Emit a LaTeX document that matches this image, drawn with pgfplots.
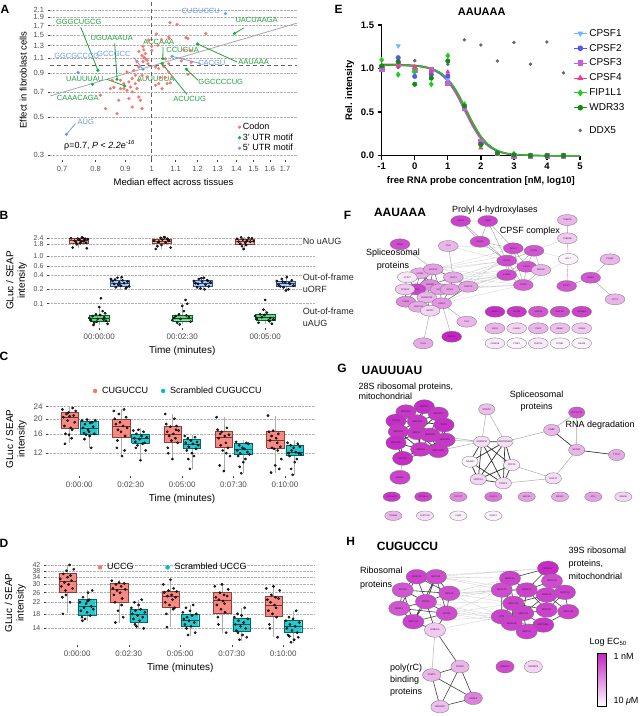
\documentclass[border=0pt]{standalone}
\usepackage{fontspec}
\setmainfont{Liberation Sans}
\usepackage{pgfplots}
\pgfplotsset{compat=1.18}

\definecolor{ggred}{HTML}{F8766D}
\definecolor{ggteal}{HTML}{00BFC4}
\definecolor{gggreen}{HTML}{00BA38}
\definecolor{ggblue}{HTML}{619CFF}
\definecolor{labgreen}{HTML}{1E9F3A}
\definecolor{labblue}{HTML}{6A9AE6}
\definecolor{ticktext}{HTML}{4D4D4D}
\definecolor{cpsfone}{HTML}{6FB6FF}
\definecolor{cpsftwo}{HTML}{5757EE}
\definecolor{cpsfthree}{HTML}{C45FE0}
\definecolor{cpsffour}{HTML}{F03C8C}
\definecolor{fipcol}{HTML}{22CC22}
\definecolor{wdrcol}{HTML}{138A13}
\definecolor{ddxcol}{HTML}{666666}
\definecolor{maghi}{RGB}{196,36,196}

\newcommand{\fsz}[2]{\fontsize{#1}{#2}\selectfont}
\def\lbl{}
\pgfdeclareplotmark{netF}{%
  \pgfpathellipse{\pgfpointorigin}{\pgfqpoint{1.8\pgfplotmarksize}{0pt}}{\pgfqpoint{0pt}{\pgfplotmarksize}}%
  \pgfusepathqfillstroke
  \pgftext{\color{black!85}\fontsize{2.2}{2.4}\selectfont\lbl}}
\pgfdeclareplotmark{netG}{%
  \pgfpathellipse{\pgfpointorigin}{\pgfqpoint{1.45\pgfplotmarksize}{0pt}}{\pgfqpoint{0pt}{\pgfplotmarksize}}%
  \pgfusepathqfillstroke
  \pgftext{\color{black!85}\fontsize{2.4}{2.6}\selectfont\lbl}}

\pgfplotsset{
  ggstyle/.style={scale only axis, axis line style={draw=none},
    axis x line*=bottom, axis y line*=left, tick align=outside,
    major tick length=2.5pt, tick style={color=black!75, line width=0.5pt},
    ymajorgrids, grid style={densely dotted, gray!60, line width=0.5pt},
    ticklabel style={font=\fsz{8}{9}, text=ticktext},
    /pgf/number format/assume math mode=true,
    label style={font=\fsz{10}{11.5}}, clip=false},
  netnodes/.style={scatter, only marks, scatter src=explicit,
    scatter/use mapped color={draw=black!55, fill=mapped color},
    mark options={line width=0.3pt},
    visualization depends on={value \thisrow{l}\as\lbl}},
  jit/.style={only marks, mark=*, mark size=1.15pt, black, mark options={fill=black!80}, forget plot},
}

% #1 x, #2 half width, #3 lower whisker, #4 q1, #5 median, #6 q3, #7 upper whisker, #8 colour, #9 opacity
\newcommand{\gbox}[9]{%
  \pgfmathsetmacro{\bxl}{#1-#2}\pgfmathsetmacro{\bxr}{#1+#2}%
  \addplot[forget plot, draw=gray!65, line width=0.5pt] coordinates {(#1,#3) (#1,#4)};
  \addplot[forget plot, draw=gray!65, line width=0.5pt] coordinates {(#1,#6) (#1,#7)};
  \addplot[forget plot, fill=#8, fill opacity=#9, draw=#8!55!black, line width=0.4pt]
     coordinates {(\bxl,#4) (\bxr,#4) (\bxr,#6) (\bxl,#6) (\bxl,#4)};
  \addplot[forget plot, draw=#8!45!black, line width=0.6pt] coordinates {(\bxl,#5) (\bxr,#5)};
}

\begin{document}
\begin{tikzpicture}
\path[use as bounding box] (0pt,0pt) rectangle (643pt,716pt);

%================ overlay: letters, networks =================
\begin{axis}[at={(0pt,0pt)}, anchor=south west, scale only axis, width=643pt, height=716pt,
  xmin=0, xmax=643, ymin=0, ymax=716, y dir=reverse, hide axis, clip=false,
  colormap={mag}{rgb255=(252,242,252) rgb255=(196,36,196)},
  point meta min=0, point meta max=1, unbounded coords=jump]

% ---------- F edges ----------
\addplot[gray!35, line width=0.3pt] coordinates {
(433.3,269.3)(506.7,260.7)(nan,nan)(433.3,269.3)(506.7,275)(nan,nan)(433.3,269.3)(513.3,248.3)(nan,nan)
(453.3,277.3)(506.7,260.7)(nan,nan)(453.3,277.3)(506.7,275)(nan,nan)(453.3,277.3)(523.3,285)(nan,nan)(453.3,277.3)(526.7,266.7)(nan,nan)
(450,289.3)(506.7,275)(nan,nan)(450,289.3)(523.3,285)(nan,nan)(450,289.3)(506.7,260.7)(nan,nan)
(468.3,286.7)(506.7,275)(nan,nan)(468.3,286.7)(523.3,285)(nan,nan)(468.3,286.7)(526.7,266.7)(nan,nan)(468.3,286.7)(513.3,248.3)(nan,nan)
(430,285)(506.7,260.7)(nan,nan)(430,285)(506.7,275)(nan,nan)(448.3,246)(513.3,248.3)(nan,nan)(448.3,246)(506.7,260.7)(nan,nan)
(441.7,303.3)(523.3,285)(nan,nan)(441.7,303.3)(506.7,275)(nan,nan)(440,289.3)(506.7,260.7)(nan,nan)(440,289.3)(523.3,285)(nan,nan)
(534,250.7)(567.3,238.3)(nan,nan)(534,250.7)(568.3,259)(nan,nan)(523.3,285)(568.3,259)(nan,nan)(433.3,269.3)(534,250.7)(nan,nan)
(420,273.3)(506.7,260.7)(nan,nan)(416,289.3)(506.7,275)(nan,nan)};
\addplot[gray!75, line width=0.4pt] coordinates {
(460.7,221)(487.7,221)(nan,nan)(460.7,221)(480,241.7)(nan,nan)(487.7,221)(480,241.7)(nan,nan)(487.7,221)(513.3,248.3)(nan,nan)
(487.7,221)(506.7,260.7)(nan,nan)(480,241.7)(506.7,260.7)(nan,nan)(480,241.7)(513.3,248.3)(nan,nan)(460.7,221)(506.7,260.7)(nan,nan)
(513.3,248.3)(534,250.7)(nan,nan)(513.3,248.3)(506.7,260.7)(nan,nan)(513.3,248.3)(526.7,266.7)(nan,nan)(513.3,248.3)(506.7,275)(nan,nan)
(513.3,248.3)(523.3,285)(nan,nan)(534,250.7)(506.7,260.7)(nan,nan)(534,250.7)(526.7,266.7)(nan,nan)(534,250.7)(541,270)(nan,nan)
(534,250.7)(506.7,275)(nan,nan)(506.7,260.7)(526.7,266.7)(nan,nan)(506.7,260.7)(506.7,275)(nan,nan)(506.7,260.7)(523.3,285)(nan,nan)
(526.7,266.7)(541,270)(nan,nan)(526.7,266.7)(506.7,275)(nan,nan)(526.7,266.7)(523.3,285)(nan,nan)(506.7,275)(523.3,285)(nan,nan)(541,270)(523.3,285)(nan,nan)
(400,244.3)(433.3,269.3)(nan,nan)(448.3,246)(453.3,277.3)(nan,nan)
(567.3,220)(567.3,238.3)(nan,nan)(567.3,238.3)(568.3,259)(nan,nan)(568.3,259)(566.7,286)(nan,nan)
(590.7,277.7)(566.7,286)(nan,nan)(590.7,277.7)(610,259.3)(nan,nan)(590.7,277.7)(615,299.3)(nan,nan)
(441.7,303.3)(466.7,321.7)(nan,nan)(430,310.7)(423.3,343.3)(nan,nan)(441.7,303.3)(451.7,336.7)(nan,nan)};
\addplot[black!65, line width=0.5pt] coordinates {
(420,273.3)(433.3,269.3)(nan,nan)(420,273.3)(407.3,277.3)(nan,nan)(420,273.3)(430,285)(nan,nan)(420,273.3)(416,289.3)(nan,nan)
(433.3,269.3)(453.3,277.3)(nan,nan)(433.3,269.3)(430,285)(nan,nan)(433.3,269.3)(440,289.3)(nan,nan)(407.3,277.3)(405,289.3)(nan,nan)
(407.3,277.3)(416,289.3)(nan,nan)(453.3,277.3)(450,289.3)(nan,nan)(453.3,277.3)(430,285)(nan,nan)(453.3,277.3)(468.3,286.7)(nan,nan)
(430,285)(416,289.3)(nan,nan)(430,285)(440,289.3)(nan,nan)(430,285)(426.7,297.3)(nan,nan)(416,289.3)(405,289.3)(nan,nan)
(416,289.3)(406,301.7)(nan,nan)(416,289.3)(426.7,297.3)(nan,nan)(440,289.3)(450,289.3)(nan,nan)(440,289.3)(441.7,303.3)(nan,nan)
(440,289.3)(426.7,297.3)(nan,nan)(450,289.3)(441.7,303.3)(nan,nan)(450,289.3)(468.3,286.7)(nan,nan)(405,289.3)(406,301.7)(nan,nan)
(406,301.7)(418.3,306.7)(nan,nan)(418.3,306.7)(426.7,297.3)(nan,nan)(418.3,306.7)(430,310.7)(nan,nan)(426.7,297.3)(441.7,303.3)(nan,nan)
(426.7,297.3)(430,310.7)(nan,nan)(441.7,303.3)(430,310.7)(nan,nan)(468.3,286.7)(441.7,303.3)(nan,nan)(416,289.3)(440,289.3)(nan,nan)
(420,273.3)(440,289.3)(nan,nan)(433.3,269.3)(416,289.3)(nan,nan)};
% ---------- F nodes ----------
\addplot[netnodes, mark=netF, mark size=5.5pt] table[meta=c, row sep=\\] {
x y c l\\
460.7 221 0.85 P4HA1\\ 487.7 221 0.85 P4HB\\ 480 241.7 0.8 P4HA2\\
513.3 248.3 0.8 FIP1L1\\ 534 250.7 0.75 CPSF1\\ 506.7 260.7 0.8 CPSF3\\ 526.7 266.7 0.75 CSTF3\\
541 270 0.3 MKRN2\\ 506.7 275 0.8 SYMPK\\ 523.3 285 0.7 CPSF2\\
400 244.3 0.8 MOB4\\ 448.3 246 0.3 PNN\\ 420 273.3 0.35 SF3B3\\ 433.3 269.3 0.4 SRSF11\\
407.3 277.3 0.05 CPSF7\\ 453.3 277.3 0.35 U2AF1\\ 430 285 0.5 SRRM2\\ 416 289.3 0.85 DDX23\\
440 289.3 0.4 SF3B1\\ 405 289.3 0.2 SF3B14\\ 450 289.3 0.4 SF3A1\\ 468.3 286.7 0.4 SRSF10\\
426.7 297.3 0.3 SNRNP200\\ 406 301.7 0.5 PUF60\\ 418.3 306.7 0.35 HNRPH1\\ 441.7 303.3 0.45 U2AF2\\
430 310.7 0.15 SNRPF\\ 466.7 321.7 0.3 TIA1\\ 451.7 336.7 1.0 CWC22\\ 423.3 343.3 0.35 TIAL1\\
567.3 220 0.3 TUBB2A\\ 567.3 238.3 0.2 TUBB4B\\ 568.3 259 0.0 RPL7\\ 610 259.3 0.3 C1QBP\\
590.7 277.7 0.75 NME2\\ 566.7 286 0.75 RPS27\\ 615 299.3 0.3 PITX1\\
495 311.7 0.95 ENO1\\ 516.7 311.7 0.9 DHX36\\ 538.3 311.7 0.75 SPATA5\\ 560 311.7 0.8 SPATS2L\\ 581.7 311.7 0.85 RPS6KA\\
495 328.3 0.3 ERO1\\ 516.7 328.3 0.15 CAMK2\\ 538.3 328.3 0.3 PRKX\\ 560 328.3 0.25 RBM47\\ 581.7 328.3 0.2 SF3B6\\
495 343.3 0.05 CSNK2B\\ 516.7 343.3 0.0 PTBP1\\ 538.3 343.3 0.05 PARP14\\ 560 343.3 0.0 ZCRB1\\ 581.7 343.3 0.0 NAA38\\
};

% ---------- G edges ----------
\addplot[black!80, line width=0.7pt] coordinates {
(424.3,406.7)(438.3,414)(nan,nan)(424.3,406.7)(406,411.7)(nan,nan)(424.3,406.7)(417.3,421.7)(nan,nan)(424.3,406.7)(444,425)(nan,nan)
(424.3,406.7)(417.3,432.7)(nan,nan)(424.3,406.7)(396,421)(nan,nan)(438.3,414)(417.3,421.7)(nan,nan)(438.3,414)(444,425)(nan,nan)
(438.3,414)(430,435)(nan,nan)(438.3,414)(417.3,432.7)(nan,nan)(406,411.7)(396,421)(nan,nan)(406,411.7)(417.3,421.7)(nan,nan)
(406,411.7)(398.3,431.7)(nan,nan)(406,411.7)(417.3,432.7)(nan,nan)(396,421)(417.3,421.7)(nan,nan)(396,421)(398.3,431.7)(nan,nan)
(396,421)(396,442.7)(nan,nan)(417.3,421.7)(444,425)(nan,nan)(417.3,421.7)(398.3,431.7)(nan,nan)(417.3,421.7)(417.3,432.7)(nan,nan)
(417.3,421.7)(430,435)(nan,nan)(417.3,421.7)(420.7,449.3)(nan,nan)(444,425)(430,435)(nan,nan)(444,425)(445,440)(nan,nan)
(444,425)(438.3,450.7)(nan,nan)(398.3,431.7)(417.3,432.7)(nan,nan)(398.3,431.7)(396,442.7)(nan,nan)(398.3,431.7)(420.7,449.3)(nan,nan)
(398.3,431.7)(402.7,458.3)(nan,nan)(417.3,432.7)(430,435)(nan,nan)(417.3,432.7)(420.7,449.3)(nan,nan)(417.3,432.7)(396,442.7)(nan,nan)
(417.3,432.7)(438.3,450.7)(nan,nan)(430,435)(445,440)(nan,nan)(430,435)(420.7,449.3)(nan,nan)(430,435)(438.3,450.7)(nan,nan)
(445,440)(438.3,450.7)(nan,nan)(445,440)(420.7,449.3)(nan,nan)(396,442.7)(420.7,449.3)(nan,nan)(396,442.7)(402.7,458.3)(nan,nan)
(420.7,449.3)(438.3,450.7)(nan,nan)(420.7,449.3)(402.7,458.3)(nan,nan)(438.3,450.7)(402.7,458.3)(nan,nan)
(481.7,441.7)(505,441.7)(nan,nan)(481.7,441.7)(470,461.7)(nan,nan)(481.7,441.7)(511.7,465)(nan,nan)(481.7,441.7)(478.3,479.3)(nan,nan)
(481.7,441.7)(503.3,483.3)(nan,nan)(505,441.7)(470,461.7)(nan,nan)(505,441.7)(511.7,465)(nan,nan)(505,441.7)(478.3,479.3)(nan,nan)
(505,441.7)(503.3,483.3)(nan,nan)(470,461.7)(503.3,483.3)(nan,nan)(470,461.7)(478.3,479.3)(nan,nan)(511.7,465)(478.3,479.3)(nan,nan)
(511.7,465)(503.3,483.3)(nan,nan)(478.3,479.3)(503.3,483.3)(nan,nan)(576.7,450)(616.7,455)(nan,nan)(551.7,430)(576.7,450)(nan,nan)};
\addplot[gray!65, line width=0.5pt] coordinates {
(445,440)(481.7,441.7)(nan,nan)(430,435)(481.7,441.7)(nan,nan)(438.3,450.7)(481.7,441.7)(nan,nan)(402.7,458.3)(400,477.3)(nan,nan)
(486.7,409.3)(481.7,441.7)(nan,nan)(486.7,409.3)(505,441.7)(nan,nan)(505,441.7)(551.7,430)(nan,nan)
(576.7,450)(553.3,478.3)(nan,nan)(553.3,478.3)(511.7,465)(nan,nan)(553.3,478.3)(503.3,483.3)(nan,nan)};
\addplot[gray!45, line width=1pt] coordinates {(576.7,412.5)(576.7,450)(nan,nan)(551.7,430)(576.7,412.5)};
% ---------- G nodes ----------
\addplot[netnodes, mark=netG, mark size=7pt] table[meta=c, row sep=\\] {
x y c l\\
424.3 406.7 0.95 MRPS7\\ 438.3 414 0.9 MRPS27\\ 406 411.7 0.9 MRPS23\\ 396 421 0.95 PTCD3\\
417.3 421.7 0.9 MRPS34\\ 444 425 0.95 DAP3\\ 398.3 431.7 0.9 MRPS31\\ 417.3 432.7 0.9 MRPS22\\
430 435 0.9 MRPS26\\ 445 440 0.9 MRPS28\\ 396 442.7 0.95 MRPS35\\ 420.7 449.3 0.9 MRPS9\\
438.3 450.7 0.9 MRPS18B\\ 402.7 458.3 0.95 MRPS2\\ 400 477.3 0.85 ERAL1\\
};
\addplot[netnodes, mark=netG, mark size=5.6pt] table[meta=c, row sep=\\] {
x y c l\\
486.7 409.3 0.25 MYEF2\\ 481.7 441.7 0.1 HNRNPM\\ 505 441.7 0.1 HNRNPA2B1\\ 470 461.7 0.0 NAA38\\
511.7 465 0.05 PRPF3\\ 478.3 479.3 0.15 PRPF31\\ 503.3 483.3 0.1 PRPF4\\ 551.7 430 0.3 CNBP\\
576.7 412.5 0.75 ZCCHC11\\ 576.7 450 0.3 SKIV2L\\ 616.7 455 0.35 TTC37\\ 553.3 478.3 0.1 DHX37\\
};
\addplot[netnodes, mark=netF, mark size=4.8pt] table[meta=c, row sep=\\] {
x y c l\\
391.7 496.7 0.9 ZFP36L2\\ 423.3 496.7 0.85 ZFP36L1\\ 458.3 496.7 0.5 CSTF2T\\ 493.3 496.7 0.6 ZNFX1\\
526.7 496.7 0.4 MEX3D\\ 560 496.7 0.35 MEX3C\\ 593.3 496.7 0.4 ATIC\\ 623.3 496.7 0.15 RBM38\\
393.3 515.7 0.3 TRIM56\\ 425 515.7 0.1 FASTKD2\\ 458.3 515.7 0.02 LSM8\\ 493.3 515.7 0.0 GRSF1\\
};

% ---------- H edges ----------
\addplot[gray!35, line width=0.35pt] coordinates {
(436,576.7)(510,578.3)(nan,nan)(436,576.7)(501.7,590)(nan,nan)(436,576.7)(526.7,590)(nan,nan)(449.3,593.3)(501.7,590)(nan,nan)
(449.3,593.3)(510,578.3)(nan,nan)(449.3,593.3)(513.3,603.3)(nan,nan)(449.3,593.3)(501.7,616.7)(nan,nan)(446.7,613.3)(501.7,616.7)(nan,nan)
(446.7,613.3)(513.3,603.3)(nan,nan)(446.7,613.3)(511.7,623.3)(nan,nan)(446.7,613.3)(501.7,590)(nan,nan)(416.7,576.7)(510,578.3)(nan,nan)
(416.7,576.7)(548,568.3)(nan,nan)(426,601.7)(501.7,590)(nan,nan)(426,601.7)(513.3,603.3)(nan,nan)(426,601.7)(501.7,616.7)(nan,nan)
(413.3,621.7)(501.7,616.7)(nan,nan)(449.3,593.3)(526.7,590)(nan,nan)(436,576.7)(548,568.3)(nan,nan)(446.7,613.3)(523.3,613.3)(nan,nan)
(426,601.7)(511.7,623.3)(nan,nan)(449.3,593.3)(546.7,595)(nan,nan)(402.7,590)(501.7,590)(nan,nan)(435,630)(501.7,616.7)(nan,nan)};
\addplot[black!75, line width=0.6pt] coordinates {
(416.7,576.7)(436,576.7)(nan,nan)(416.7,576.7)(402.7,590)(nan,nan)(416.7,576.7)(426,601.7)(nan,nan)(416.7,576.7)(399.3,608.3)(nan,nan)
(416.7,576.7)(449.3,593.3)(nan,nan)(436,576.7)(449.3,593.3)(nan,nan)(436,576.7)(426,601.7)(nan,nan)(436,576.7)(446.7,613.3)(nan,nan)
(436,576.7)(413.3,621.7)(nan,nan)(402.7,590)(426,601.7)(nan,nan)(402.7,590)(399.3,608.3)(nan,nan)(402.7,590)(413.3,621.7)(nan,nan)
(402.7,590)(449.3,593.3)(nan,nan)(449.3,593.3)(426,601.7)(nan,nan)(449.3,593.3)(446.7,613.3)(nan,nan)(426,601.7)(399.3,608.3)(nan,nan)
(426,601.7)(446.7,613.3)(nan,nan)(426,601.7)(413.3,621.7)(nan,nan)(426,601.7)(435,630)(nan,nan)(399.3,608.3)(413.3,621.7)(nan,nan)
(399.3,608.3)(446.7,613.3)(nan,nan)(446.7,613.3)(413.3,621.7)(nan,nan)(446.7,613.3)(435,630)(nan,nan)(413.3,621.7)(435,630)(nan,nan)
(548,568.3)(510,578.3)(nan,nan)(548,568.3)(552,581)(nan,nan)(548,568.3)(526.7,590)(nan,nan)(548,568.3)(546.7,595)(nan,nan)
(510,578.3)(526.7,590)(nan,nan)(510,578.3)(501.7,590)(nan,nan)(510,578.3)(513.3,603.3)(nan,nan)(552,581)(546.7,595)(nan,nan)
(552,581)(565,592.3)(nan,nan)(526.7,590)(501.7,590)(nan,nan)(526.7,590)(546.7,595)(nan,nan)(526.7,590)(513.3,603.3)(nan,nan)
(526.7,590)(523.3,613.3)(nan,nan)(526.7,590)(546.7,610)(nan,nan)(501.7,590)(513.3,603.3)(nan,nan)(501.7,590)(501.7,616.7)(nan,nan)
(546.7,595)(565,592.3)(nan,nan)(546.7,595)(546.7,610)(nan,nan)(546.7,595)(523.3,613.3)(nan,nan)(546.7,595)(568.3,611.7)(nan,nan)
(565,592.3)(568.3,611.7)(nan,nan)(565,592.3)(546.7,610)(nan,nan)(513.3,603.3)(501.7,616.7)(nan,nan)(513.3,603.3)(523.3,613.3)(nan,nan)
(513.3,603.3)(511.7,623.3)(nan,nan)(513.3,603.3)(546.7,610)(nan,nan)(501.7,616.7)(511.7,623.3)(nan,nan)(501.7,616.7)(523.3,613.3)(nan,nan)
(523.3,613.3)(546.7,610)(nan,nan)(523.3,613.3)(511.7,623.3)(nan,nan)(523.3,613.3)(543.3,625)(nan,nan)(523.3,613.3)(526.7,631.7)(nan,nan)
(546.7,610)(568.3,611.7)(nan,nan)(546.7,610)(543.3,625)(nan,nan)(568.3,611.7)(543.3,625)(nan,nan)(511.7,623.3)(526.7,631.7)(nan,nan)
(543.3,625)(526.7,631.7)(nan,nan)(511.7,623.3)(543.3,625)(nan,nan)(526.7,590)(552,581)(nan,nan)(546.7,595)(513.3,603.3)(nan,nan)
(435,630)(460,666.7)(nan,nan)(431.7,675)(460,666.7)(nan,nan)(431.7,675)(473.3,698.3)(nan,nan)(431.7,675)(440,706.7)(nan,nan)
(460,666.7)(473.3,698.3)(nan,nan)(460,666.7)(440,706.7)(nan,nan)(440,706.7)(473.3,698.3)(nan,nan)};
\addplot[gray!60, line width=0.5pt] coordinates {(435,630)(431.7,675)};
% ---------- H nodes ----------
\addplot[netnodes, mark=netG, mark size=7.3pt] table[meta=c, row sep=\\] {
x y c l\\
416.7 576.7 0.85 MRPL13\\ 436 576.7 0.8 MRPL11\\ 402.7 590 0.75 RPS28\\ 449.3 593.3 0.8 RPS3A\\
426 601.7 0.8 RPS10\\ 399.3 608.3 0.75 MRPL1\\ 446.7 613.3 0.8 RPS13\\ 413.3 621.7 0.85 MRPL22\\
435 630 0.2 GNB2L1\\
548 568.3 0.95 MRPL17\\ 510 578.3 0.85 MRPL12\\ 552 581 0.8 MRPL40\\ 526.7 590 0.85 MRPL21\\
501.7 590 0.8 MRPL49\\ 546.7 595 0.85 MRPL15\\ 565 592.3 0.85 MRPL50\\ 513.3 603.3 0.85 MRPL38\\
501.7 616.7 0.85 ICT1\\ 523.3 613.3 0.85 MRPL14\\ 546.7 610 0.85 MRPL37\\ 568.3 611.7 0.85 MRPL43\\
511.7 623.3 0.85 MRPL39\\ 543.3 625 0.9 MRPS18A\\ 526.7 631.7 0.85 MRPL3\\
};
\addplot[netnodes, mark=netG, mark size=6.3pt] table[meta=c, row sep=\\] {
x y c l\\
460 666.7 0.3 PCBP2\\ 431.7 675 0.3 PCBP1\\ 473.3 698.3 0.55 SRSF4\\ 440 706.7 0.25 HNRNPK\\
505 666.7 0.8 ANGEL2\\ 533.3 666.7 0.15 IGF2BP3\\
};

% panel letters and titles
\node[font=\bfseries\fsz{12}{14}] at (axis cs:5,9) {A};
\node[font=\bfseries\fsz{12}{14}] at (axis cs:4,215) {B};
\node[font=\bfseries\fsz{12}{14}] at (axis cs:4,356) {C};
\node[font=\bfseries\fsz{12}{14}] at (axis cs:4,543) {D};
\node[font=\bfseries\fsz{12}{14}] at (axis cs:338.7,9) {E};
\node[font=\bfseries\fsz{12}{14}] at (axis cs:347.5,215) {F};
\node[font=\bfseries\fsz{12}{14}] at (axis cs:342,368) {G};
\node[font=\bfseries\fsz{12}{14}] at (axis cs:350.8,541) {H};
\node[font=\bfseries\fsz{11}{13}] at (axis cs:481.7,11.7) {AAUAAA};
\node[font=\bfseries\fsz{12}{14}] at (axis cs:400,212.7) {AAUAAA};
\node[font=\bfseries\fsz{12}{14}] at (axis cs:392,370) {UAUUUAU};
\node[font=\bfseries\fsz{12}{14}] at (axis cs:407.5,546.7) {CUGUCCU};

% annotations
\node[font=\fsz{9}{11}] at (axis cs:495,210) {Prolyl 4-hydroxylases};
\node[font=\fsz{9}{11}] at (axis cs:530,230.8) {CPSF complex};
\node[font=\fsz{9}{13.3}, align=center] at (axis cs:393,260) {Spliceosomal\\proteins};
\node[font=\fsz{9}{10}, align=left, anchor=west] at (axis cs:355,391.7) {28S ribosomal proteins,\\mitochondrial};
\node[font=\fsz{9}{11.7}, align=center] at (axis cs:536.7,401) {Spliceosomal\\proteins};
\node[font=\fsz{9}{11}, anchor=west] at (axis cs:562,425) {RNA degradation};
\node[font=\fsz{9}{13.3}, align=left, anchor=west] at (axis cs:356.7,578.3) {Ribosomal\\proteins};
\node[font=\fsz{9}{13.3}, align=left, anchor=west] at (axis cs:565,563.3) {39S ribosomal\\proteins,\\mitochondrial};
\node[font=\fsz{9}{11.7}, align=left, anchor=west] at (axis cs:386.7,680) {poly(rC)\\binding\\proteins};
\node[font=\fsz{9}{11}, anchor=west] at (axis cs:586,642) {Log EC\textsubscript{50}};
\node[font=\fsz{9}{11}, anchor=west] at (axis cs:610,656.7) {1 nM};
\node[font=\fsz{9}{11}, anchor=west] at (axis cs:610,701) {10 \textit{μ}M};
\fill[top color=maghi, bottom color=white] (axis cs:597,653.3) rectangle (axis cs:606,706.7);
\draw[line width=0.9pt] (axis cs:597,653.3) rectangle (axis cs:606,706.7);
\end{axis}

%================ A =================
\begin{axis}[ggstyle, at={(50pt,716pt)}, anchor=north west, width=247pt, height=160pt,
  xmode=log, ymode=log, xmin=0.667, xmax=1.783, ymin=0.2806, ymax=2.40,
  xtick={0.7,0.8,0.9,1,1.1,1.2,1.3,1.4,1.5,1.6,1.7}, xticklabels={0.7,0.8,0.9,1,1.1,1.2,1.3,1.4,1.5,1.6,1.7},
  ytick={0.3,0.5,0.7,0.9,1.1,1.3,1.5,1.7,1.9,2.1}, yticklabels={0.3,0.5,0.7,0.9,1.1,1.3,1.5,1.7,1.9,2.1},
  minor xtick={}, minor ytick={},
  ticklabel style={font=\fsz{7.5}{8.5}},
  xlabel={Median effect across tissues}, ylabel={Effect in fibroblast cells},
  label style={font=\fsz{9.5}{11}},
  legend style={at={(0.757,0.25)}, anchor=north west, draw=none, fill=none, font=\fsz{9}{10}, row sep=-1.5pt, inner sep=1pt},
  legend cell align=left, unbounded coords=jump]
\addplot[forget plot, dash pattern=on 4pt off 3pt, gray!75!black, line width=0.7pt] coordinates {(1,0.2806) (1,2.40)};
\addplot[forget plot, dash pattern=on 4pt off 3pt, gray!75!black, line width=0.7pt] coordinates {(0.667,1) (1.783,1)};
\addplot[forget plot, gray!70, line width=0.8pt] coordinates {(0.667,0.662) (1.783,1.76)};
\addplot[forget plot, labgreen, line width=0.8pt] coordinates {
(0.754,1.665)(0.807,0.935)(nan,nan)(0.863,1.343)(0.871,0.829)(nan,nan)(0.836,0.829)(0.898,0.758)(nan,nan)
(1.046,1.278)(1.045,1.094)(nan,nan)(1.20,1.331)(1.404,1.045)(nan,nan)(1.39,1.53)(1.442,1.65)(nan,nan)
(1.148,0.948)(1.202,0.818)(nan,nan)(1.042,1.023)(1.151,0.675)};
\addplot[forget plot, labblue, line width=0.8pt] coordinates {
(0.931,1.109)(0.966,0.948)(nan,nan)(1.084,1.128)(1.214,1.023)(nan,nan)(0.712,0.396)(0.738,0.457)};
\addplot[only marks, mark=*, mark size=1.4pt, ggred] coordinates {
(1.075,1.77)(1.106,1.73)(1.24,1.53)(1.019,1.52)(1.07,1.46)(1.072,1.43)(1.146,1.45)(1.155,1.43)(1.0,1.29)(1.04,1.41)
(1.025,1.31)(1.0,1.22)(0.966,1.29)(0.975,1.17)(0.962,1.14)(0.97,1.11)(0.982,1.07)(0.966,1.05)(0.985,1.02)(1.136,1.23)
(1.166,1.22)(1.125,1.06)(1.17,1.04)(1.056,1.09)(1.07,1.02)(1.049,0.98)(1.155,0.886)(1.07,0.914)(1.056,0.848)(1.077,0.79)
(1.042,0.73)(1.063,0.782)(1.035,0.848)(0.988,1.40)(0.969,1.23)(0.95,1.20)(0.978,1.08)(0.943,1.05)(0.95,0.977)(0.931,0.935)
(0.906,0.914)(0.937,0.874)(0.962,0.874)(0.982,0.855)(0.925,0.837)(0.95,0.818)(0.913,0.80)(0.895,0.782)(0.937,0.782)(0.919,0.747)
(0.906,0.715)(0.895,0.731)(0.925,0.70)(0.943,0.731)(0.883,0.731)(0.86,0.742)(0.848,0.731)(0.854,0.818)(0.883,0.818)(0.913,0.64)
(0.95,0.653)(0.956,0.625)(0.877,0.625)(0.925,0.571)(0.832,0.559)(0.871,0.522)(0.962,0.559)(0.815,0.669)(1.015,0.977)(1.028,0.956)
(1.084,0.855)(1.015,0.765)(1.028,0.782)};
\addlegendentry{Codon}
\addplot[only marks, mark=*, mark size=1.4pt, gggreen] coordinates {
(0.807,0.935)(0.871,0.829)(0.898,0.758)(0.79,0.775)(1.045,1.094)(1.042,1.023)(1.148,0.948)(1.20,1.331)(1.39,1.53)};
\addlegendentry{3' UTR motif}
\addplot[only marks, mark=*, mark size=1.4pt, ggblue] coordinates {
(1.341,2.0)(0.746,0.907)(0.966,0.948)(1.084,1.128)(0.712,0.396)};
\addlegendentry{5' UTR motif}
\begin{scope}[font=\fsz{7.5}{8.5}]
\node[text=labgreen] at (axis cs:0.748,1.78) {GGGCUGCG};
\node[text=labgreen] at (axis cs:0.853,1.437) {UGUAAAUA};
\node[text=labblue] at (axis cs:0.742,1.128) {GGCGCCCG};
\node[text=labblue] at (axis cs:0.860,1.159) {GCCGCC};
\node[text=labgreen] at (axis cs:0.766,0.829) {UAUUUAU};
\node[text=labgreen] at (axis cs:0.745,0.642) {CAAACAGA};
\node[text=labblue] at (axis cs:0.769,0.466) {AUG};
\node[text=labgreen] at (axis cs:1.028,1.361) {ACCAAA};
\node[text=labgreen] at (axis cs:1.131,1.223) {CCUGUA};
\node[text=labgreen] at (axis cs:1.016,0.829) {AUUUUUA};
\node[text=labblue] at (axis cs:1.215,2.064) {CUGUCCU};
\node[text=labgreen] at (axis cs:1.518,1.83) {UACUAAGA};
\node[text=labgreen] at (axis cs:1.50,1.041) {AAUAAA};
\node[text=labblue] at (axis cs:1.27,1.027) {CACGU};
\node[text=labgreen] at (axis cs:1.316,0.796) {GGCCCCUG};
\node[text=labgreen] at (axis cs:1.163,0.634) {ACUCUG};
\end{scope}
\node[anchor=west, font=\fsz{9}{10}] at (axis cs:0.696,0.342) {ρ=0.7, \textit{P} < \textit{2.2e}\textsuperscript{\textit{-16}}};
\end{axis}

%================ B =================
\begin{axis}[ggstyle, at={(49.5pt,483pt)}, anchor=north west, width=265.5pt, height=95pt,
  ymode=log, xmin=0.4, xmax=3.6, ymin=0.031, ymax=3.03,
  xtick={1,2,3}, xticklabels={00:00:00,00:02:30,00:05:00},
  ytick={0.1,0.2,0.4,0.6,1.0,1.8,2.4}, yticklabels={0.1,0.2,0.4,0.6,1.0,1.8,2.4}, minor ytick={},
  yticklabel style={font=\fsz{7}{7.5}},
  xlabel={Time (minutes)}, ylabel={GLuc / SEAP\\intensity}, ylabel style={align=center}]
\gbox{0.752}{0.117}{1.45}{1.85}{2.1}{2.33}{2.5}{ggred}{0.55}
\gbox{1.752}{0.117}{1.4}{1.85}{2.05}{2.3}{2.5}{ggred}{0.55}
\gbox{2.752}{0.117}{1.4}{1.8}{2.0}{2.3}{2.45}{ggred}{0.55}
\gbox{1.248}{0.117}{0.19}{0.23}{0.27}{0.31}{0.36}{ggblue}{0.55}
\gbox{2.248}{0.117}{0.2}{0.23}{0.27}{0.31}{0.35}{ggblue}{0.55}
\gbox{3.248}{0.117}{0.19}{0.23}{0.265}{0.30}{0.36}{ggblue}{0.55}
\gbox{1.0}{0.117}{0.036}{0.043}{0.05}{0.058}{0.085}{gggreen}{0.6}
\gbox{2.0}{0.117}{0.037}{0.044}{0.05}{0.058}{0.09}{gggreen}{0.6}
\gbox{3.0}{0.117}{0.038}{0.045}{0.051}{0.06}{0.075}{gggreen}{0.6}
\addplot[jit] coordinates {
(0.66,2.35)(0.70,2.1)(0.72,1.95)(0.74,2.3)(0.76,2.2)(0.78,2.0)(0.80,2.4)(0.82,2.15)(0.84,1.9)(0.86,2.25)(0.68,1.5)(0.85,1.45)
(0.73,1.75)(0.79,2.45)(0.77,1.85)(0.81,2.05)(0.75,2.2)(0.83,2.3)
(1.66,2.1)(1.68,1.4)(1.70,1.6)(1.72,2.0)(1.74,2.4)(1.76,2.2)(1.78,2.5)(1.80,1.9)(1.82,2.3)(1.84,2.1)(1.86,1.5)(1.75,1.7)
(1.79,2.45)(1.71,1.95)(1.83,2.15)
(2.66,2.3)(2.68,2.0)(2.70,1.8)(2.72,1.6)(2.74,1.4)(2.76,1.9)(2.78,2.1)(2.80,2.4)(2.84,2.35)(2.86,2.05)(2.73,2.2)(2.77,1.7)
(2.71,2.45)(2.82,2.0)
(1.14,0.33)(1.16,0.30)(1.18,0.26)(1.20,0.22)(1.22,0.35)(1.24,0.28)(1.26,0.24)(1.28,0.31)(1.30,0.27)(1.32,0.21)(1.34,0.29)
(1.36,0.23)(1.19,0.32)(1.27,0.36)(1.23,0.25)(1.33,0.22)
(2.14,0.30)(2.16,0.27)(2.18,0.22)(2.20,0.33)(2.22,0.21)(2.24,0.29)(2.26,0.35)(2.28,0.25)(2.30,0.31)(2.32,0.23)(2.34,0.28)
(2.19,0.26)(2.27,0.20)(2.23,0.34)(2.31,0.30)
(3.14,0.30)(3.16,0.25)(3.18,0.23)(3.20,0.33)(3.22,0.22)(3.24,0.28)(3.26,0.36)(3.28,0.20)(3.30,0.26)(3.32,0.31)(3.34,0.24)
(3.21,0.29)(3.29,0.27)(3.25,0.19)
(0.88,0.05)(0.90,0.045)(0.92,0.055)(0.94,0.04)(0.96,0.06)(0.98,0.048)(1.00,0.085)(1.02,0.13)(1.04,0.07)(1.06,0.052)(1.08,0.044)
(1.10,0.038)(0.97,0.042)(1.01,0.058)(1.05,0.047)(0.93,0.036)(1.07,0.063)
(1.88,0.045)(1.90,0.05)(1.92,0.055)(1.94,0.04)(1.96,0.06)(1.98,0.048)(2.00,0.09)(2.04,0.12)(2.06,0.10)(2.08,0.052)(2.10,0.042)
(2.02,0.07)(1.97,0.037)(2.05,0.057)
(2.88,0.055)(2.90,0.048)(2.92,0.04)(2.94,0.06)(2.96,0.052)(2.98,0.075)(3.00,0.12)(3.02,0.065)(3.04,0.045)(3.06,0.05)(3.08,0.038)
(2.99,0.058)(3.05,0.043)(3.10,0.047)};
\node[anchor=west, fill=white, inner sep=1pt, font=\fsz{9}{11}, text=black!85] at (axis cs:3.44,1.99) {No uAUG};
\node[anchor=west, fill=white, inner sep=1pt, align=left, font=\fsz{9}{12}, text=black!85] at (axis cs:3.44,0.272) {Out-of-frame\\uORF};
\node[anchor=west, fill=white, inner sep=1pt, align=left, font=\fsz{9}{12}, text=black!85] at (axis cs:3.44,0.0526) {Out-of-frame\\uAUG};
\end{axis}

%================ C =================
\begin{axis}[ggstyle, at={(48.5pt,314pt)}, anchor=north west, width=267.3pt, height=74pt,
  ymode=log, xmin=0.4, xmax=5.6, ymin=8.55, ymax=25.7,
  xtick={1,2,3,4,5}, xticklabels={0:00:00,0:02:30,0:05:00,0:07:30,0:10:00},
  ytick={12,16,20,24}, yticklabels={12,16,20,24}, minor ytick={},
  xlabel={Time (minutes)}, ylabel={GLuc / SEAP\\intensity}, ylabel style={align=center},
  legend style={at={(0.155,1.149)}, anchor=west, legend columns=2, draw=none, fill=none, font=\fsz{9}{10},
     /tikz/every odd column/.append style={column sep=3pt},
     /tikz/every even column/.append style={column sep=11pt}}]
\addlegendimage{only marks, mark=*, ggred, mark size=2pt}\addlegendentry{CUGUCCU}
\addlegendimage{only marks, mark=*, ggteal, mark size=2pt}\addlegendentry{Scrambled CUGUCCU}
\gbox{0.8125}{0.17}{13.9}{17.4}{20.5}{22.0}{23.8}{ggred}{0.85}
\gbox{1.1875}{0.17}{13.0}{16.0}{17.5}{19.2}{20.0}{ggteal}{0.85}
\gbox{1.8125}{0.17}{11.5}{15.2}{17.9}{19.9}{23.0}{ggred}{0.85}
\gbox{2.1875}{0.17}{10.8}{13.9}{15.0}{16.0}{17.5}{ggteal}{0.85}
\gbox{2.8125}{0.17}{11.0}{14.1}{16.0}{17.9}{21.5}{ggred}{0.85}
\gbox{3.1875}{0.17}{9.5}{12.9}{13.8}{14.8}{15.8}{ggteal}{0.85}
\gbox{3.8125}{0.17}{9.2}{13.2}{15.1}{16.6}{20.5}{ggred}{0.85}
\gbox{4.1875}{0.17}{8.9}{11.9}{12.7}{13.9}{14.6}{ggteal}{0.85}
\gbox{4.8125}{0.17}{9.0}{13.0}{14.5}{16.7}{21.0}{ggred}{0.85}
\gbox{5.1875}{0.17}{8.7}{11.6}{12.1}{13.6}{14.5}{ggteal}{0.85}
\addplot[jit] coordinates {
(0.67,23.0)(0.69,20.5)(0.71,18.0)(0.73,16.0)(0.75,21.5)(0.77,19.5)(0.79,22.0)(0.81,20.8)(0.83,17.5)(0.85,15.0)(0.87,23.5)
(0.89,21.0)(0.91,19.0)(0.93,22.5)(0.72,13.8)(0.86,17.0)(0.80,15.8)
(1.05,19.5)(1.07,17.5)(1.09,16.2)(1.11,18.5)(1.13,15.8)(1.15,19.8)(1.17,17.0)(1.19,16.5)(1.21,18.8)(1.23,13.0)(1.25,19.0)
(1.27,17.8)(1.29,16.0)(1.31,19.6)(1.10,14.8)(1.20,15.5)
(1.67,22.5)(1.69,20.0)(1.71,18.5)(1.73,13.0)(1.75,17.0)(1.77,21.5)(1.79,19.0)(1.81,16.5)(1.83,11.5)(1.85,18.0)(1.87,23.0)
(1.89,15.5)(1.91,20.5)(1.93,17.5)(1.74,14.5)(1.88,12.5)
(2.05,16.8)(2.07,15.0)(2.09,14.2)(2.11,16.0)(2.13,13.5)(2.15,17.0)(2.17,14.8)(2.19,10.8)(2.21,15.5)(2.23,13.8)(2.25,16.5)
(2.27,14.0)(2.29,12.5)(2.31,15.2)(2.10,13.0)
(2.67,21.5)(2.69,18.5)(2.71,16.5)(2.73,12.0)(2.75,15.5)(2.77,17.8)(2.79,14.5)(2.81,11.0)(2.83,16.0)(2.85,20.0)(2.87,15.0)
(2.89,18.0)(2.91,14.0)(2.93,16.8)(2.72,13.0)(2.88,17.0)
(3.05,15.5)(3.07,14.0)(3.09,12.5)(3.11,15.0)(3.13,13.2)(3.15,9.5)(3.17,14.5)(3.19,12.0)(3.21,13.8)(3.23,11.5)(3.25,15.2)
(3.27,12.8)(3.29,14.2)(3.31,13.5)(3.12,11.0)
(3.67,20.5)(3.69,17.0)(3.71,15.0)(3.73,10.0)(3.75,13.5)(3.77,16.5)(3.79,12.5)(3.81,9.2)(3.83,15.5)(3.85,14.0)(3.87,17.5)
(3.89,13.0)(3.91,15.8)(3.93,11.5)(3.74,16.0)(3.86,12.0)
(4.05,14.2)(4.07,12.5)(4.09,11.5)(4.11,13.5)(4.13,12.0)(4.15,8.9)(4.17,13.0)(4.19,10.5)(4.21,12.8)(4.23,11.0)(4.25,14.0)
(4.27,12.2)(4.29,13.8)(4.31,11.8)(4.12,9.8)
(4.67,21.0)(4.69,16.5)(4.71,14.5)(4.73,9.0)(4.75,13.0)(4.77,16.8)(4.79,12.8)(4.81,10.0)(4.83,15.0)(4.85,14.0)(4.87,16.0)
(4.89,9.5)(4.91,13.2)(4.93,11.0)(4.74,15.5)(4.86,12.5)
(5.05,14.0)(5.07,12.0)(5.09,11.5)(5.11,13.5)(5.13,12.5)(5.15,8.7)(5.17,13.0)(5.19,10.5)(5.21,12.2)(5.23,11.0)(5.25,13.8)
(5.27,12.0)(5.29,13.2)(5.31,11.8)(5.12,9.5)};
\end{axis}

%================ D =================
\begin{axis}[ggstyle, at={(46.4pt,155pt)}, anchor=north west, width=267.8pt, height=84pt,
  ymode=log, xmin=0.4, xmax=5.6, ymin=10.5, ymax=45,
  xtick={1,2,3,4,5}, xticklabels={0:00:00,0:02:30,0:05:00,0:07:30,0:10:00},
  ytick={14,18,22,26,30,34,38,42}, yticklabels={14,18,22,26,30,34,38,42}, minor ytick={},
  yticklabel style={font=\fsz{7}{7.5}},
  xlabel={Time (minutes)}, ylabel={GLuc / SEAP\\intensity}, ylabel style={align=center},
  legend style={at={(0.181,0.925)}, anchor=west, legend columns=2, draw=none, fill=none, font=\fsz{9}{10},
     /tikz/every odd column/.append style={column sep=3pt},
     /tikz/every even column/.append style={column sep=30pt}}]
\addlegendimage{only marks, mark=*, ggred, mark size=2pt}\addlegendentry{UCCG}
\addlegendimage{only marks, mark=*, ggteal, mark size=2pt}\addlegendentry{Scrambled UCCG}
\gbox{0.8125}{0.17}{18.2}{26.4}{31.4}{36.4}{42}{ggred}{0.85}
\gbox{1.1875}{0.17}{16}{17.6}{20.5}{23.1}{27}{ggteal}{0.85}
\gbox{1.8125}{0.17}{15.5}{22.0}{27.5}{30.6}{32.5}{ggred}{0.85}
\gbox{2.1875}{0.17}{13.8}{15.7}{18}{19.5}{23}{ggteal}{0.85}
\gbox{2.8125}{0.17}{14.3}{20.2}{24.3}{26.7}{32.5}{ggred}{0.85}
\gbox{3.1875}{0.17}{12.2}{14.6}{16.2}{18}{21}{ggteal}{0.85}
\gbox{3.8125}{0.17}{13}{18.3}{22.6}{26}{30}{ggred}{0.85}
\gbox{4.1875}{0.17}{11.2}{13.4}{15}{16.6}{20}{ggteal}{0.85}
\gbox{4.8125}{0.17}{12}{17.4}{21}{24.6}{29}{ggred}{0.85}
\gbox{5.1875}{0.17}{10.8}{13.1}{14.5}{16.1}{19}{ggteal}{0.85}
\addplot[jit] coordinates {
(0.67,33)(0.69,29)(0.71,24)(0.73,36)(0.75,31)(0.77,27)(0.79,38)(0.81,34)(0.83,30)(0.85,42)(0.87,35)(0.89,32)(0.91,28)
(0.93,39)(0.72,18)(0.78,25)(0.86,22)
(1.05,22)(1.07,19)(1.09,17)(1.11,24)(1.13,20)(1.15,16.5)(1.17,21.5)(1.19,18.5)(1.21,26)(1.23,23)(1.25,17.5)(1.27,20.5)
(1.29,27)(1.31,19.5)(1.10,16)(1.20,22.5)
(1.67,32)(1.69,28)(1.71,25)(1.73,22)(1.75,30)(1.77,27)(1.79,19)(1.81,31)(1.83,26)(1.85,29)(1.87,23.5)(1.89,17)(1.91,30.5)
(1.93,27.5)(1.74,15.5)(1.86,21)
(2.05,20)(2.07,18)(2.09,16.5)(2.11,22)(2.13,19)(2.15,14.5)(2.17,17.5)(2.19,21)(2.21,16)(2.23,19.5)(2.25,23)(2.27,17)
(2.29,14)(2.31,18.5)(2.12,15)
(2.67,30)(2.69,26)(2.71,22)(2.73,18)(2.75,24.5)(2.77,27)(2.79,21)(2.81,32.5)(2.83,25)(2.85,23)(2.87,28)(2.89,20)(2.91,24)
(2.93,26.5)(2.74,14.3)(2.86,19.5)
(3.05,18.5)(3.07,16.5)(3.09,15)(3.11,20)(3.13,17)(3.15,12.5)(3.17,16)(3.19,19)(3.21,14.5)(3.23,17.5)(3.25,21)(3.27,15.5)
(3.29,13)(3.31,18)(3.12,14)
(3.67,29)(3.69,24)(3.71,21)(3.73,17)(3.75,23)(3.77,26)(3.79,19.5)(3.81,30)(3.83,22.5)(3.85,25)(3.87,18.5)(3.89,13)
(3.91,24.5)(3.93,27.5)(3.74,15)(3.86,21.5)
(4.05,17)(4.07,15)(4.09,13.5)(4.11,18)(4.13,16)(4.15,11.5)(4.17,14.5)(4.19,17.5)(4.21,12.5)(4.23,15.5)(4.25,20)(4.27,14)
(4.29,12)(4.31,16.5)(4.12,13)
(4.67,28)(4.69,23)(4.71,19)(4.73,15)(4.75,22)(4.77,25)(4.79,18)(4.81,29)(4.83,21)(4.85,24)(4.87,17)(4.89,12)(4.91,23.5)
(4.93,27)(4.74,14)(4.86,20)
(5.05,16)(5.07,14)(5.09,12.5)(5.11,17)(5.13,15)(5.15,11)(5.17,13.5)(5.19,16.5)(5.21,11.5)(5.23,14.5)(5.25,19)(5.27,13)
(5.29,12)(5.31,15.5)(5.12,12.2)};
\end{axis}

%================ E =================
\begin{axis}[at={(381.7pt,691pt)}, anchor=north west, scale only axis, width=198.3pt, height=130.7pt,
  xmin=-1, xmax=5, ymin=0, ymax=1.5, axis x line*=bottom, axis y line*=left,
  axis line style={line width=1.3pt}, tick align=outside, major tick length=4pt,
  tick style={line width=1.3pt, black},
  xtick={-1,0,1,2,3,4,5}, ytick={0,0.5,1,1.5},
  yticklabel style={/pgf/number format/.cd, fixed, fixed zerofill, precision=1},
  ticklabel style={font=\bfseries\fsz{9.5}{10}},
  /pgf/number format/assume math mode=true,
  xlabel={free RNA probe concentration [nM, log10]}, ylabel={Rel. intensity},
  label style={font=\bfseries\fsz{9.5}{11}}, clip=false,
  legend style={at={(0.965,0.985)}, anchor=north west, draw=none, fill=none, font=\fsz{10}{11}, row sep=2.4pt, inner sep=0pt},
  legend cell align=left,
  legend image code/.code={\draw[mark repeat=2,mark phase=2] plot coordinates {(0cm,0cm) (0.23cm,0cm) (0.46cm,0cm)};}]
\addlegendimage{cpsfone, line width=1pt, mark=triangle*, mark size=2.5pt, mark options={rotate=180}}\addlegendentry{CPSF1}
\addlegendimage{cpsftwo, line width=1pt, mark=*, mark size=2.3pt}\addlegendentry{CPSF2}
\addlegendimage{cpsfthree, line width=1pt, mark=square*, mark size=2.2pt}\addlegendentry{CPSF3}
\addlegendimage{cpsffour, line width=1pt, mark=triangle*, mark size=2.5pt}\addlegendentry{CPSF4}
\addlegendimage{fipcol, line width=1pt, mark=diamond*, mark size=2.8pt}\addlegendentry{FIP1L1}
\addlegendimage{wdrcol, line width=1pt, mark=*, mark size=2.3pt}\addlegendentry{WDR33}
\addlegendimage{empty legend}\addlegendentry{}
\addlegendimage{ddxcol, only marks, mark=*, mark size=1.5pt}\addlegendentry{DDX5}
% data points
\addplot[forget plot, ddxcol, only marks, mark=*, mark size=1.5pt] coordinates {
(-1,1.04)(-0.5,1.01)(0,1.09)(0.5,0.93)(1,1.05)(1.5,1.33)(2,1.27)(2.5,1.087)(3,1.30)(3.5,1.05)(4,1.305)(4.5,0.95)};
\addplot[forget plot, cpsfone, only marks, mark=triangle*, mark size=2.5pt, mark options={rotate=180}] coordinates {
(-1,1.02)(-0.5,1.26)(0,0.95)(0.5,0.95)(1,0.88)(1.5,0.57)(2,0.14)(2.5,0.03)(3,0.01)(3.5,0)(4,0)(4.5,0)};
\addplot[forget plot, cpsftwo, only marks, mark=*, mark size=2.3pt] coordinates {
(-1,1.02)(-0.5,1.125)(0,0.91)(0.5,0.93)(1,0.915)(1.5,0.56)(2,0.15)(2.5,0.03)(3,0.0)(3.5,0)(4,0)(4.5,0)};
\addplot[forget plot, cpsfthree, only marks, mark=square*, mark size=2.2pt] coordinates {
(-1,1.0)(-0.5,1.05)(0,0.98)(0.5,0.995)(1,0.83)(1.5,0.55)(2,0.16)(2.5,0.03)(3,0.0)(3.5,0)(4,0)(4.5,0)};
\addplot[forget plot, cpsffour, only marks, mark=triangle*, mark size=2.5pt] coordinates {
(-1,1.03)(-0.5,1.03)(0,1.02)(0.5,0.97)(1,0.96)(1.5,0.57)(2,0.09)(2.5,0.03)(3,0.0)(3.5,0)(4,0)(4.5,0)};
\addplot[forget plot, fipcol, only marks, mark=diamond*, mark size=2.8pt] coordinates {
(-1,1.10)(-0.5,0.93)(0,0.965)(0.5,0.82)(1,1.148)(1.5,0.59)(2,0.12)(2.5,0.03)(3,0.02)(3.5,0)(4,0)(4.5,0)};
\addplot[forget plot, wdrcol, only marks, mark=*, mark size=2.3pt] coordinates {
(-1,1.03)(-0.5,1.08)(0,0.82)(0.5,0.89)(1,1.087)(1.5,0.57)(2,0.13)(2.5,0.03)(3,0.01)(3.5,0)(4,0)(4.5,0)};
% fitted curves
\addplot[forget plot, cpsfone, line width=1.2pt, smooth] coordinates {
(-1,1.039)(-0.5,1.037)(0,1.028)(0.25,1.016)(0.5,0.990)(0.75,0.940)(1,0.850)(1.25,0.706)(1.5,0.520)(1.75,0.334)
(2,0.190)(2.25,0.0996)(2.5,0.0496)(2.75,0.0241)(3,0.0115)(3.5,0.0026)(4,0.0006)(4.5,0.0001)(5,0)};
\addplot[forget plot, cpsftwo, line width=1.2pt, smooth] coordinates {
(-1,1.039)(-0.5,1.037)(0,1.029)(0.25,1.017)(0.5,0.993)(0.75,0.945)(1,0.858)(1.25,0.716)(1.5,0.532)(1.75,0.345)
(2,0.197)(2.25,0.104)(2.5,0.052)(2.75,0.0253)(3,0.0121)(3.5,0.0027)(4,0.0006)(4.5,0.0001)(5,0)};
\addplot[forget plot, cpsfthree, line width=1.2pt, smooth] coordinates {
(-1,1.045)(-0.5,1.043)(0,1.034)(0.25,1.022)(0.5,0.998)(0.75,0.950)(1,0.862)(1.25,0.721)(1.5,0.538)(1.75,0.350)
(2,0.200)(2.25,0.106)(2.5,0.053)(2.75,0.0258)(3,0.0124)(3.5,0.0028)(4,0.0006)(4.5,0.0001)(5,0)};
\addplot[forget plot, cpsffour, line width=1.2pt, smooth] coordinates {
(-1,1.050)(-0.5,1.048)(0,1.039)(0.25,1.027)(0.5,1.002)(0.75,0.955)(1,0.868)(1.25,0.728)(1.5,0.545)(1.75,0.357)
(2,0.206)(2.25,0.110)(2.5,0.055)(2.75,0.0268)(3,0.0129)(3.5,0.0029)(4,0.0006)(4.5,0.0001)(5,0)};
\addplot[forget plot, wdrcol, line width=1.3pt, smooth] coordinates {
(-1,1.0395)(-0.5,1.038)(0,1.031)(0.25,1.020)(0.5,0.999)(0.75,0.958)(1,0.880)(1.25,0.752)(1.5,0.574)(1.75,0.383)
(2,0.225)(2.25,0.120)(2.5,0.0605)(2.75,0.0295)(3,0.0142)(3.5,0.0032)(4,0.0007)(4.5,0.0002)(5,0)};
\addplot[forget plot, fipcol, line width=1.1pt, smooth] coordinates {
(-1,1.0395)(-0.5,1.038)(0,1.031)(0.25,1.020)(0.5,0.999)(0.75,0.958)(1,0.880)(1.25,0.752)(1.5,0.574)(1.75,0.383)
(2,0.225)(2.25,0.120)(2.5,0.0605)(2.75,0.0295)(3,0.0142)(3.5,0.0032)(4,0.0007)(4.5,0.0002)(5,0)};
\end{axis}
\end{tikzpicture}
\end{document}
